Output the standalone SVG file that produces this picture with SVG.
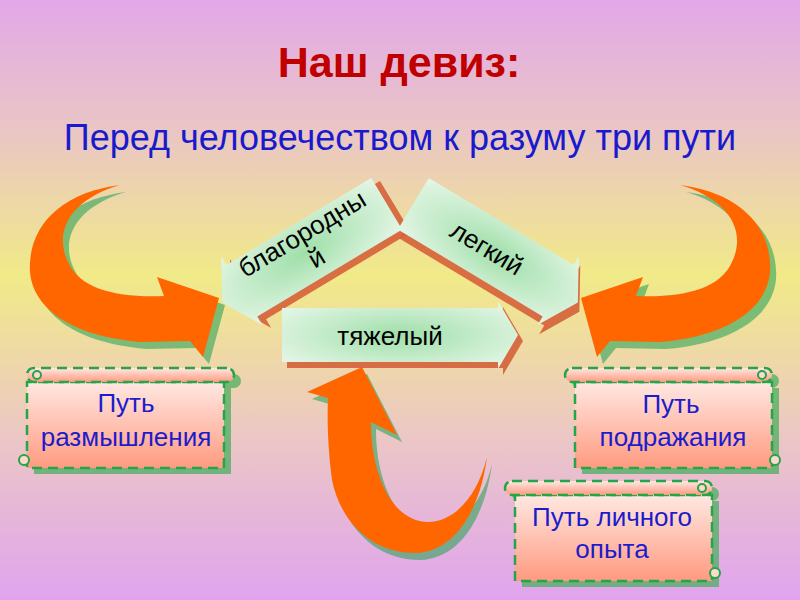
<svg xmlns="http://www.w3.org/2000/svg" width="800" height="600" viewBox="0 0 800 600">
<defs>
<linearGradient id="bg" x1="0" y1="0" x2="0" y2="1">
<stop offset="0" stop-color="#e2a8e8"/>
<stop offset="0.22" stop-color="#eac6c4"/>
<stop offset="0.46" stop-color="#f1ea88"/>
<stop offset="0.72" stop-color="#ecc8c4"/>
<stop offset="1" stop-color="#e0a4ee"/>
</linearGradient>
<radialGradient id="lbl" cx="0.5" cy="0.5" r="0.6">
<stop offset="0" stop-color="#9fdfa9"/>
<stop offset="1" stop-color="#e2f5e4"/>
</radialGradient>
<linearGradient id="scr" x1="0" y1="0" x2="0" y2="1">
<stop offset="0" stop-color="#ffe8e2"/>
<stop offset="1" stop-color="#ff9a80"/>
</linearGradient>
<path id="arrL" d="M120,185 C65,192 32,222 30,263 C27,300 60,335 140,342 L190,341 L203,357 L219,298 L157,277 L164,296 C120,298 80,290 68,262 C52,228 75,198 120,185 Z"/>
<path id="arrB" d="M362,367 L397,435 L371,422 C371,480 395,522 428,522 C455,522 478,495 487,457 C480,510 455,552 415,553 C370,553 340,520 332,480 C328,450 327,420 328,398 L307,392 Z"/>
<g id="scrollShape">
<rect x="10" y="14" width="197" height="86"/>
<rect x="0" y="0" width="207" height="14" rx="7"/>
</g>
</defs>
<style>
.orange{fill:#ff6600}
.gshadow{fill:#2ea35a;opacity:0.6}
.bshadow{fill:#d5603a;opacity:0.9}
.lbl{fill:url(#lbl)}
.lt{font-family:"Liberation Sans",Arial,sans-serif;font-size:26px;fill:#000;text-anchor:middle}
.st{font-family:"Liberation Sans",Arial,sans-serif;font-size:26px;fill:#1c1ccc;text-anchor:middle}
.sshadow{fill:#4caf60;opacity:0.75}
.sbody{fill:url(#scr);stroke:#24a548;stroke-width:2.5;stroke-dasharray:10 6}
.curl{fill:#ffd8d0;stroke:#24a548;stroke-width:2}
</style>
<rect x="0" y="0" width="800" height="600" fill="url(#bg)"/>

<text x="399" y="77" font-family="Liberation Sans, Arial, sans-serif" font-size="43" font-weight="bold" fill="#c00000" text-anchor="middle">Наш девиз:</text>
<text x="400" y="150" font-family="Liberation Sans, Arial, sans-serif" font-size="36" fill="#1a1acd" text-anchor="middle">Перед человечеством к разуму три пути</text>

<g id="connectors">
<g id="arrow-left">
<use href="#arrL" class="gshadow" transform="translate(6,7)"/>
<use href="#arrL" class="orange"/>
</g>
<g id="arrow-right" transform="translate(800,0) scale(-1,1)">
<use href="#arrL" class="gshadow" transform="translate(-6,7)"/>
<use href="#arrL" class="orange"/>
</g>
<g id="arrow-bottom">
<use href="#arrB" class="gshadow" transform="translate(5,7)"/>
<use href="#arrB" class="orange"/>
</g>
</g>

<g id="label-blagorodny" transform="translate(313,248) rotate(-31)">
<polygon class="bshadow" transform="translate(6,7)" points="-83,-30 86,-30 86,30 -83,30 -83,40 -106,0 -83,-40"/>
<polygon class="lbl" points="-83,-30 86,-30 86,30 -83,30 -83,40 -106,0 -83,-40"/>
<text class="lt" x="-2" y="-9">благородны</text>
<text class="lt" x="-2" y="19">й</text>
</g>

<g id="label-legky" transform="translate(487,248) rotate(31)">
<polygon class="bshadow" transform="translate(6,7)" points="-86,-30 83,-30 83,-40 106,0 83,40 83,30 -86,30"/>
<polygon class="lbl" points="-86,-30 83,-30 83,-40 106,0 83,40 83,30 -86,30"/>
<text class="lt" x="0" y="9">легкий</text>
</g>

<g id="label-tyazhely">
<polygon class="bshadow" transform="translate(5,6)" points="282,308 498,308 498,301 518,335 498,369 498,362 282,362"/>
<polygon class="lbl" points="282,308 498,308 498,301 518,335 498,369 498,362 282,362"/>
<text class="lt" x="390" y="345">тяжелый</text>
</g>

<g id="scroll-razmyshleniya">
<g transform="translate(234,368) scale(-1,1)">
<use href="#scrollShape" class="sshadow" transform="translate(-7,6)"/>
<use href="#scrollShape" class="sbody"/>
<circle class="curl" cx="197" cy="7" r="4"/>
<circle class="curl" cx="210" cy="92" r="5"/>
</g>
<text class="st" x="126" y="412">Путь</text>
<text class="st" x="126" y="446">размышления</text>
</g>

<g id="scroll-podrazhaniya">
<g transform="translate(565,368)">
<use href="#scrollShape" class="sshadow" transform="translate(7,6)"/>
<use href="#scrollShape" class="sbody"/>
<circle class="curl" cx="197" cy="7" r="4"/>
<circle class="curl" cx="210" cy="92" r="5"/>
</g>
<text class="st" x="671" y="413">Путь</text>
<text class="st" x="673" y="446">подражания</text>
</g>

<g id="scroll-lichnogo-opyta">
<g transform="translate(505,481)">
<use href="#scrollShape" class="sshadow" transform="translate(7,6)"/>
<use href="#scrollShape" class="sbody"/>
<circle class="curl" cx="197" cy="7" r="4"/>
<circle class="curl" cx="210" cy="92" r="5"/>
</g>
<text class="st" x="612" y="526">Путь личного</text>
<text class="st" x="612" y="558">опыта</text>
</g>
</svg>
